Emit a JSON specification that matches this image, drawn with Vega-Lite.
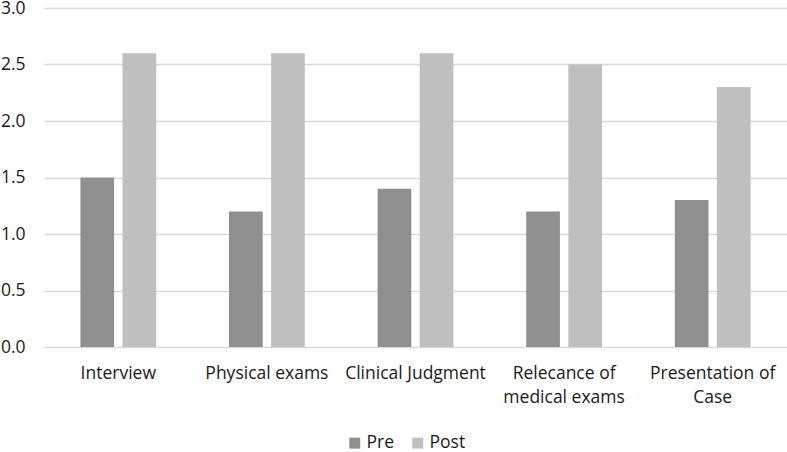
{
  "$schema": "https://vega.github.io/schema/vega-lite/v6.json",
  "width": 743,
  "height": 339,
  "autosize": "none",
  "padding": {"left": 44, "top": 8, "right": 0, "bottom": 105},
  "background": "white",
  "config": {
    "view": {"stroke": null},
    "font": "Open Sans",
    "axis": {"labelFont": "Open Sans", "labelFontSize": 17.5, "labelColor": "#1a1a1a"},
    "legend": {"labelFont": "Open Sans", "labelFontSize": 17.5, "labelColor": "#1a1a1a"}
  },
  "data": {
    "values": [
      {"category": "Interview", "group": "Pre", "value": 1.5},
      {"category": "Interview", "group": "Post", "value": 2.6},
      {"category": "Physical exams", "group": "Pre", "value": 1.2},
      {"category": "Physical exams", "group": "Post", "value": 2.6},
      {"category": "Clinical Judgment", "group": "Pre", "value": 1.4},
      {"category": "Clinical Judgment", "group": "Post", "value": 2.6},
      {"category": "Relecance of medical exams", "group": "Pre", "value": 1.2},
      {"category": "Relecance of medical exams", "group": "Post", "value": 2.5},
      {"category": "Presentation of Case", "group": "Pre", "value": 1.3},
      {"category": "Presentation of Case", "group": "Post", "value": 2.3}
    ]
  },
  "mark": {"type": "bar"},
  "encoding": {
    "x": {
      "field": "category",
      "type": "nominal",
      "sort": null,
      "title": null,
      "scale": {"paddingInner": 0.49, "paddingOuter": 0.245},
      "axis": {
        "labelAngle": 0,
        "domain": false,
        "ticks": false,
        "labelPadding": 17,
        "labelLineHeight": 24,
        "labelExpr": "datum.label == 'Relecance of medical exams' ? ['Relecance of', 'medical exams'] : datum.label == 'Presentation of Case' ? ['Presentation of', 'Case'] : datum.label"
      }
    },
    "xOffset": {
      "field": "group",
      "type": "nominal",
      "sort": ["Pre", "Post"],
      "scale": {"paddingInner": 0.2}
    },
    "y": {
      "field": "value",
      "type": "quantitative",
      "title": null,
      "scale": {"domain": [0, 3]},
      "axis": {
        "values": [0, 0.5, 1, 1.5, 2, 2.5, 3],
        "format": ".1f",
        "domain": false,
        "ticks": false,
        "labelPadding": 19,
        "gridColor": "#d9d9d9",
        "gridWidth": 1.3
      }
    },
    "color": {
      "field": "group",
      "type": "nominal",
      "sort": ["Pre", "Post"],
      "scale": {"domain": ["Pre", "Post"], "range": ["#8f8f8f", "#bfbfbf"]},
      "legend": {
        "title": null,
        "orient": "none",
        "direction": "horizontal",
        "legendX": 302,
        "legendY": 426,
        "symbolType": "square",
        "symbolSize": 120,
        "symbolStrokeWidth": 0,
        "columnPadding": 14,
        "labelOffset": 3
      }
    }
  }
}
